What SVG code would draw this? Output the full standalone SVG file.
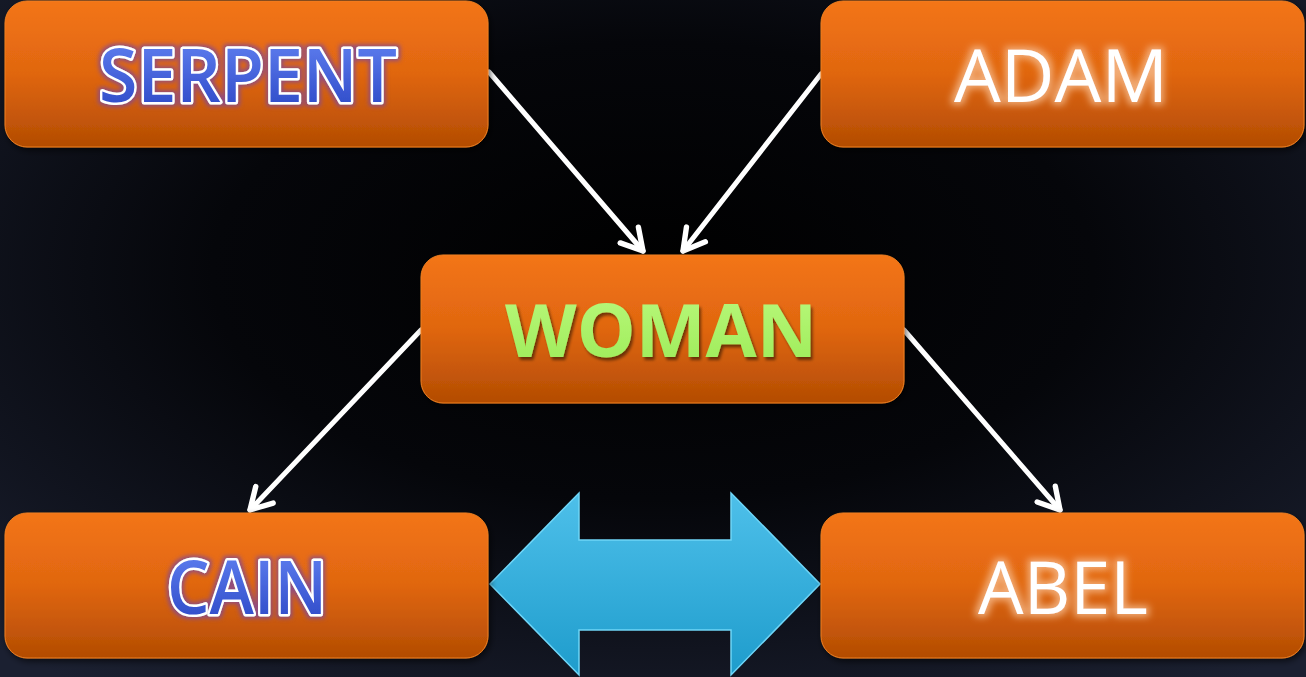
<svg xmlns="http://www.w3.org/2000/svg" width="1306" height="677" viewBox="0 0 1306 677">
<defs>
<radialGradient id="bg" cx="0.5" cy="0.4" r="0.75">
<stop offset="0" stop-color="#000000"/>
<stop offset="0.45" stop-color="#05060a"/>
<stop offset="1" stop-color="#1b2031"/>
</radialGradient>
<linearGradient id="box" x1="0" y1="0" x2="0" y2="1">
<stop offset="0" stop-color="#f37516"/>
<stop offset="0.5" stop-color="#e06610"/>
<stop offset="1" stop-color="#b34c03"/>
</linearGradient>
<linearGradient id="blueT" x1="0" y1="0" x2="0" y2="1">
<stop offset="0" stop-color="#6a8af8"/>
<stop offset="1" stop-color="#2440c0"/>
</linearGradient>
<linearGradient id="greenT" x1="0" y1="0" x2="0" y2="1">
<stop offset="0" stop-color="#bdfa80"/>
<stop offset="1" stop-color="#9aea55"/>
</linearGradient>
<linearGradient id="cyan" x1="0" y1="0" x2="0" y2="1">
<stop offset="0" stop-color="#4ec0ea"/>
<stop offset="1" stop-color="#1e9ccc"/>
</linearGradient>
<filter id="shadow" x="-10%" y="-10%" width="120%" height="130%">
<feGaussianBlur in="SourceAlpha" stdDeviation="3"/>
<feOffset dx="2" dy="3" result="b"/>
<feComponentTransfer><feFuncA type="linear" slope="0.6"/></feComponentTransfer>
<feMerge><feMergeNode/><feMergeNode in="SourceGraphic"/></feMerge>
</filter>
<filter id="glowP" x="-10%" y="-20%" width="120%" height="140%">
<feMorphology in="SourceAlpha" operator="dilate" radius="2" result="d"/>
<feGaussianBlur in="d" stdDeviation="2" result="g"/>
<feFlood flood-color="#8a4a8a" flood-opacity="0.9"/>
<feComposite in2="g" operator="in"/>
<feMerge><feMergeNode/><feMergeNode in="SourceGraphic"/></feMerge>
</filter>
<filter id="glowW" x="-10%" y="-20%" width="120%" height="140%">
<feMorphology in="SourceAlpha" operator="dilate" radius="3" result="d"/>
<feGaussianBlur in="d" stdDeviation="3.5" result="g"/>
<feFlood flood-color="#f5b888" flood-opacity="0.85"/>
<feComposite in2="g" operator="in"/>
<feMerge><feMergeNode/><feMergeNode in="SourceGraphic"/></feMerge>
</filter>
<filter id="shadowG" x="-10%" y="-20%" width="120%" height="140%">
<feGaussianBlur in="SourceAlpha" stdDeviation="1.5"/>
<feOffset dx="2" dy="3"/>
<feComponentTransfer><feFuncA type="linear" slope="0.5"/></feComponentTransfer>
<feMerge><feMergeNode/><feMergeNode in="SourceGraphic"/></feMerge>
</filter>
<marker id="arr" viewBox="0 0 10 10" refX="8" refY="5" markerWidth="6" markerHeight="6" orient="auto" markerUnits="strokeWidth">
<path d="M1,1 L8,5 L1,9" fill="none" stroke="#ffffff" stroke-width="1.8" stroke-linecap="round" stroke-linejoin="round"/>
</marker>
<style>
.box{fill:url(#box);stroke:#f08020;stroke-width:1;filter:url(#shadow);}
.t{font-family:"Open Sans","Liberation Sans",sans-serif;font-size:74px;text-anchor:middle;}
.blue{fill:url(#blueT);stroke:#ffffff;stroke-width:5;stroke-linejoin:round;paint-order:stroke;font-weight:600;filter:url(#glowP);}
.white{fill:#ffffff;filter:url(#glowW);}
.green{fill:url(#greenT);font-weight:bold;filter:url(#shadowG);}
.con{stroke:#ffffff;stroke-width:5;fill:none;marker-end:url(#arr);stroke-linecap:round;}
</style>
</defs>
<rect width="1306" height="677" fill="url(#bg)"/>
<g id="connectors">
<line class="con" x1="489" y1="72" x2="643" y2="251"/>
<line class="con" x1="821" y1="74" x2="683" y2="251"/>
<line class="con" x1="421" y1="330" x2="250" y2="510"/>
<line class="con" x1="904" y1="330" x2="1060" y2="510"/>
<path d="M490,584 L579,493 L579,540 L731,540 L731,493 L820,584 L731,675 L731,630 L579,630 L579,675 Z" fill="url(#cyan)" stroke="#6fd6f8" stroke-width="1.5"/>
</g>
<g id="serpent">
<rect class="box" x="5" y="1" width="483" height="146" rx="22"/>
<text class="t blue" x="248" y="102" textLength="298" lengthAdjust="spacingAndGlyphs">SERPENT</text>
</g>
<g id="adam">
<rect class="box" x="821" y="1" width="483" height="146" rx="22"/>
<text class="t white" x="1061" y="102" textLength="214" lengthAdjust="spacingAndGlyphs">ADAM</text>
</g>
<g id="woman">
<rect class="box" x="421" y="255" width="483" height="148" rx="22"/>
<text class="t green" x="661" y="357" textLength="312" lengthAdjust="spacingAndGlyphs">WOMAN</text>
</g>
<g id="cain">
<rect class="box" x="5" y="513" width="483" height="145" rx="22"/>
<text class="t blue" x="247" y="614" textLength="160" lengthAdjust="spacingAndGlyphs">CAIN</text>
</g>
<g id="abel">
<rect class="box" x="821" y="513" width="483" height="145" rx="22"/>
<text class="t white" x="1063" y="614" textLength="170" lengthAdjust="spacingAndGlyphs">ABEL</text>
</g>
</svg>
